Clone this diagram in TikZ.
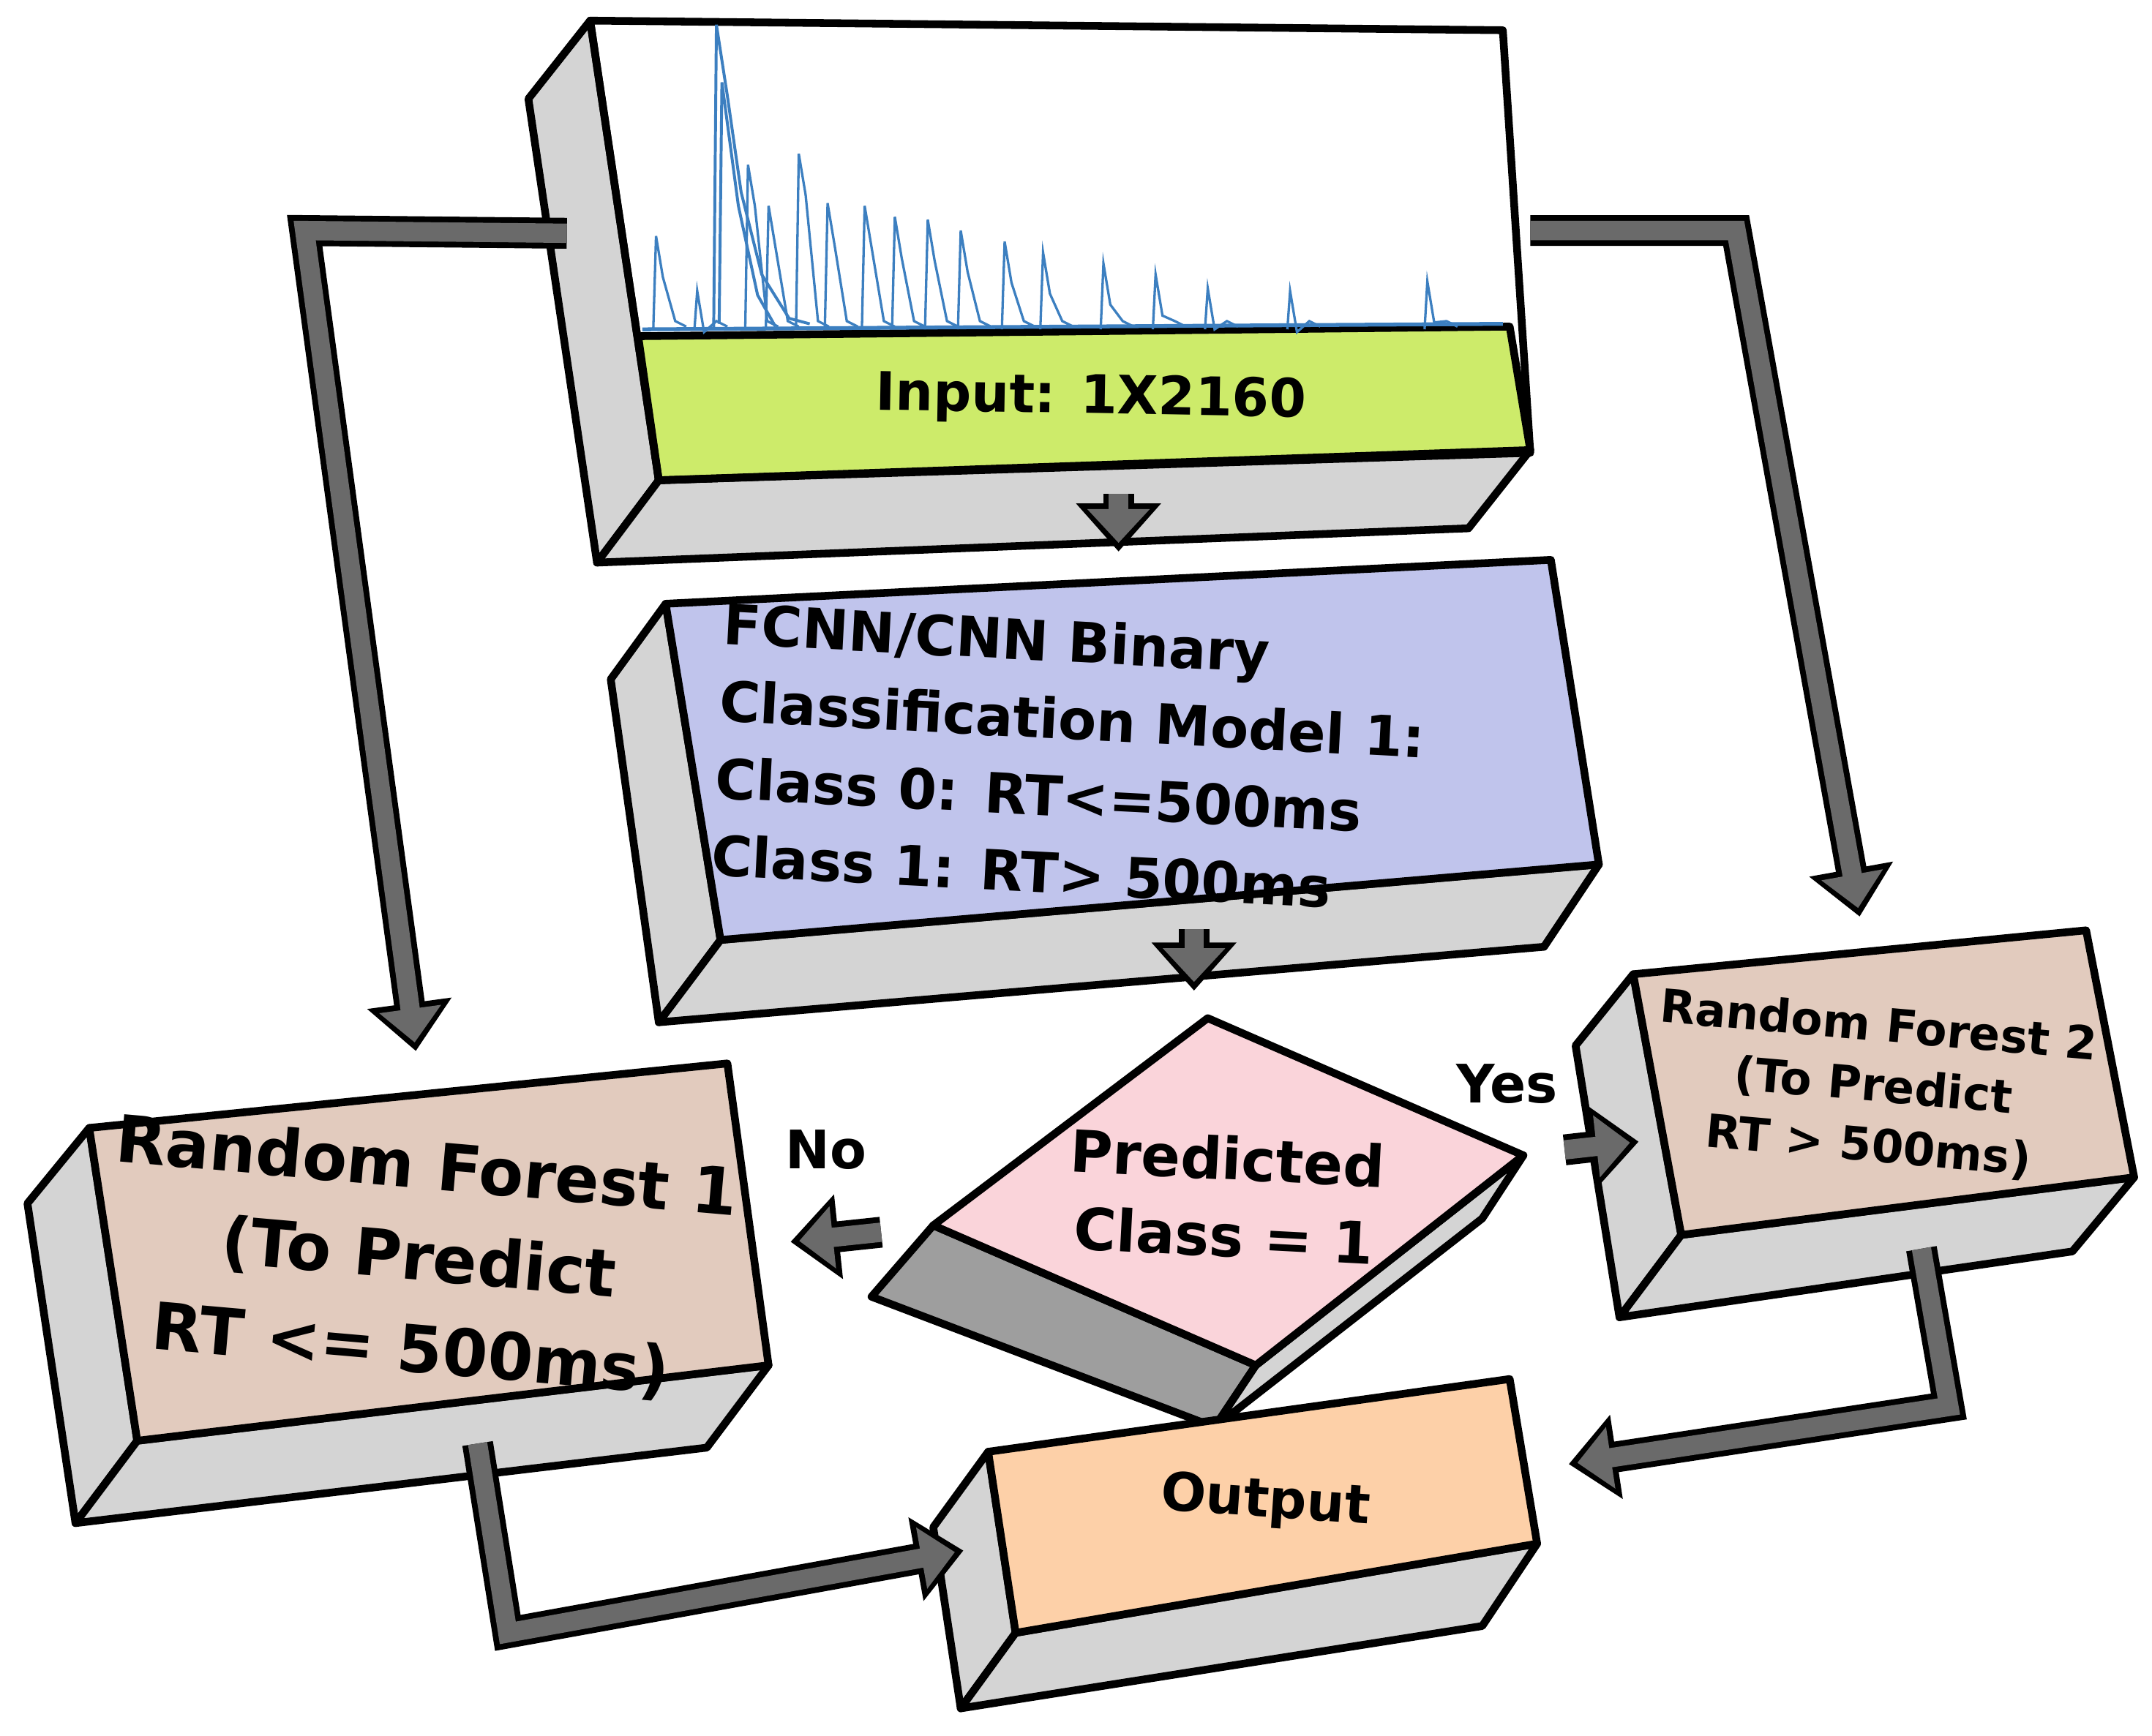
\documentclass[tikz,border=0pt]{standalone}
\usepackage{fontspec}
\setmainfont{DejaVu Sans}
\usetikzlibrary{arrows.meta}
\definecolor{sideg}{HTML}{D4D4D4}
\definecolor{darkg}{HTML}{9E9E9E}
\definecolor{arrg}{HTML}{6A6A6A}
\definecolor{inpgreen}{HTML}{CDEB6A}
\definecolor{fcblue}{HTML}{C0C4EC}
\definecolor{rfbrown}{HTML}{E2CBBE}
\definecolor{dpink}{HTML}{FAD4DA}
\definecolor{outor}{HTML}{FDD0A8}
\definecolor{sigblue}{HTML}{3C7FC0}
\begin{document}
\begin{tikzpicture}[x=0.01cm,y=-0.01cm,
  face/.style={draw=black,line width=1.6pt,line join=round},
  lbl/.style={font=\bfseries\fontsize{11}{14}\selectfont,align=center},
  outer/.style={draw=black,line width=6.4pt,-{Triangle[width=17pt,length=10pt]}},
  inner/.style={draw=arrg,line width=4pt,shorten >=1.8pt,-{Triangle[width=12.5pt,length=7pt]}}]
\useasboundingbox (0,0) rectangle (1568,1265);
% Input box
\fill[white] (430,15)--(1095,22)--(1115,330)--(480,350)--cycle;
\draw[face,fill=sideg] (430,15)--(385,72)--(435,410)--(480,350)--cycle;
\draw[face,fill=sideg] (480,350)--(1115,328)--(1070,385)--(435,410)--cycle;
\draw[face,fill=inpgreen] (465,245)--(1100,238)--(1115,328)--(480,350)--cycle;
\draw[face] (430,15)--(1095,22)--(1115,330)--(480,350)--cycle;
\foreach \x/\h in {478/172,508/212,545/120,560/150,582/112,603/148,630/150,652/158,676/160,700/168,732/176,760/184,804/192,842/200,880/210,940/212,1040/205} {
  \draw[sigblue,line width=0.5pt] (\x-2,240)--(\x,\h)--(\x+5,\h+30)--(\x+14,234)--(\x+22,238);
}
\draw[sigblue,line width=0.6pt] (520,240)--(522,18)--(530,70)--(540,140)--(555,200)--(575,232)--(590,236);
\draw[sigblue,line width=0.6pt] (524,236)--(526,60)--(538,150)--(552,215)--(565,238);
\draw[sigblue,line width=0.8pt] (468,240)--(1095,236);
\node[lbl,rotate=-1] (inp) at (795,291) {Input: 1X2160};
% FCNN box
\draw[face,fill=sideg] (485,440)--(445,495)--(480,745)--(525,685)--cycle;
\draw[face,fill=sideg] (525,685)--(1165,630)--(1125,690)--(480,745)--cycle;
\draw[face,fill=fcblue] (485,440)--(1130,408)--(1165,630)--(525,685)--cycle;
\node[lbl,rotate=-3,align=left,font=\bfseries\fontsize{11.5}{16}\selectfont] (fc) at (780,552) {FCNN/CNN Binary\\Classification Model 1:\\Class 0: RT<=500ms\\Class 1: RT> 500ms};
% Diamond
\draw[face,fill=darkg] (680,893)--(915,995)--(885,1040)--(635,945)--cycle;
\draw[face,fill=sideg] (915,995)--(1110,842)--(1080,888)--(885,1040)--cycle;
\draw[face,fill=dpink] (880,742)--(1110,842)--(915,995)--(680,893)--cycle;
\node[lbl,rotate=-3,font=\bfseries\fontsize{12}{16}\selectfont] (dia) at (893,872) {Predicted\\Class = 1};
% RF1
\draw[face,fill=sideg] (65,822)--(20,877)--(55,1110)--(100,1050)--cycle;
\draw[face,fill=sideg] (100,1050)--(560,995)--(515,1055)--(55,1110)--cycle;
\draw[face,fill=rfbrown] (65,822)--(530,775)--(560,995)--(100,1050)--cycle;
\node[lbl,rotate=-5,font=\bfseries\fontsize{13.5}{19}\selectfont] (rf1) at (305,918) {Random Forest 1\\(To Predict\\RT <= 500ms)};
% RF2
\draw[face,fill=sideg] (1190,710)--(1148,762)--(1180,960)--(1225,900)--cycle;
\draw[face,fill=sideg] (1225,900)--(1555,858)--(1510,912)--(1180,960)--cycle;
\draw[face,fill=rfbrown] (1190,710)--(1520,678)--(1555,858)--(1225,900)--cycle;
\node[lbl,rotate=-5,font=\bfseries\fontsize{9.5}{12.5}\selectfont] (rf2) at (1365,792) {Random Forest 2\\(To Predict\\RT > 500ms)};
% Output
\draw[face,fill=sideg] (720,1058)--(680,1113)--(700,1245)--(740,1190)--cycle;
\draw[face,fill=sideg] (740,1190)--(1120,1125)--(1080,1185)--(700,1245)--cycle;
\draw[face,fill=outor] (720,1058)--(1100,1005)--(1120,1125)--(740,1190)--cycle;
\node[lbl,rotate=-4] (out) at (922,1095) {Output};
% labels
\node[lbl] (no) at (602,838) {No};
\node[lbl] (yes) at (1098,790) {Yes};
% arrows
\coordinate (a1s) at (413,170); \coordinate (a1m) at (222,168); \coordinate (a1e) at (303,766);
\coordinate (a2s) at (1115,168); \coordinate (a2m) at (1265,168); \coordinate (a2e) at (1355,668);
\coordinate (a3s) at (815,360); \coordinate (a3e) at (815,402);
\coordinate (a4s) at (870,677); \coordinate (a4e) at (870,722);
\coordinate (a5s) at (642,898); \coordinate (a5e) at (576,905);
\coordinate (a6s) at (1140,838); \coordinate (a6e) at (1194,832);
\coordinate (a7s) at (348,1052); \coordinate (a7m) at (370,1190); \coordinate (a7e) at (702,1130);
\coordinate (a8s) at (1400,910); \coordinate (a8m) at (1420,1025); \coordinate (a8e) at (1143,1067);
\foreach \st in {outer,inner}{
  \draw[\st,line join=miter] (a1s)--(a1m)--(a1e);
  \draw[\st,line join=miter] (a2s)--(a2m)--(a2e);
  \draw[\st] (a3s)--(a3e);
  \draw[\st] (a4s)--(a4e);
  \draw[\st] (a5s)--(a5e);
  \draw[\st] (a6s)--(a6e);
  \draw[\st,line join=miter] (a7s)--(a7m)--(a7e);
  \draw[\st,line join=miter] (a8s)--(a8m)--(a8e);
}
\end{tikzpicture}
\end{document}
